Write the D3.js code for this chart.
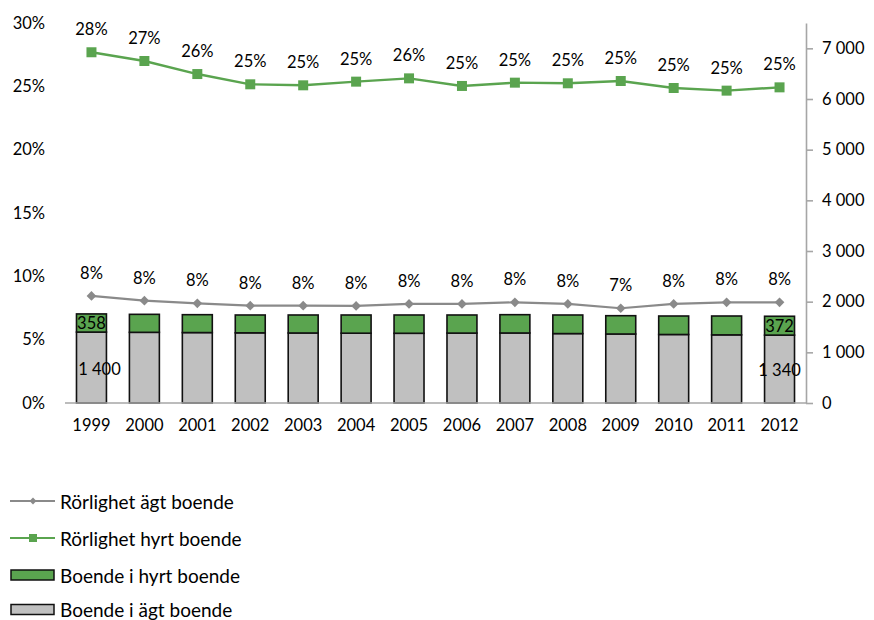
<!DOCTYPE html>
<html>
<head>
<meta charset="utf-8">
<script src="https://cdn.jsdelivr.net/npm/d3@7/dist/d3.min.js"></script>
<style>
  html, body { margin: 0; padding: 0; background: #fff; }
  svg { display: block; font-family: Lato, "Open Sans", sans-serif; }
</style>
</head>
<body>
<svg id="chart" width="874" height="620"></svg>
<script>
// Years on the category axis
const years = ["1999","2000","2001","2002","2003","2004","2005","2006","2007","2008","2009","2010","2011","2012"];

// Number of people living in owned and rented housing (right axis)
const owned  = [1400, 1395, 1390, 1385, 1382, 1378, 1376, 1380, 1382, 1370, 1362, 1352, 1345, 1340];
const rented = [358, 355, 353, 352, 355, 359, 361, 357, 361, 367, 361, 365, 372, 372];

// Mobility rates (left axis)
const mobilityOwned  = [0.0845, 0.0808, 0.0787, 0.0768, 0.0768, 0.0766, 0.0782, 0.0782, 0.0795, 0.0782, 0.0748, 0.0782, 0.0795, 0.0795];
const mobilityRented = [0.2769, 0.2700, 0.2597, 0.2516, 0.2508, 0.2537, 0.2563, 0.2503, 0.2529, 0.2524, 0.2542, 0.2487, 0.2466, 0.2492];

// Axis ticks
const leftTicks  = [0, 0.05, 0.10, 0.15, 0.20, 0.25, 0.30];
const rightTicks = [0, 1000, 2000, 3000, 4000, 5000, 6000, 7000];

// Legend entries
const legendLabels = ["Rörlighet ägt boende", "Rörlighet hyrt boende", "Boende i hyrt boende", "Boende i ägt boende"];

const GREEN = "#5aa44f";
const GREY_LINE = "#8a8a8a";
const GREY_BAR = "#c0c0c0";
const AXIS = "#a6a6a6";

const svg = d3.select("#chart");
const plot = { left: 65, right: 806, top: 23, bottom: 403 };

const x = d3.scaleBand().domain(years).range([plot.left, plot.right])
  .paddingInner(0.434).paddingOuter(0.217);
const cx = d => x(d) + x.bandwidth() / 2;
const yL = d3.scaleLinear().domain([0, 0.30]).range([plot.bottom, plot.top]);
const yR = d3.scaleLinear().domain([0, 7500]).range([plot.bottom, plot.top]);

const pct = d3.format(".0%");
const thousands = v => d3.format(",")(v).replace(/,/g, "\u00a0");

// Stacked bars: owned at the bottom, rented on top
const rows = years.map((y, i) => ({ year: y, owned: owned[i], rented: rented[i] }));
const stack = d3.stack().keys(["owned", "rented"])(rows);
const fills = { owned: GREY_BAR, rented: GREEN };

svg.append("g").selectAll("g").data(stack).join("g")
  .attr("fill", s => fills[s.key])
  .selectAll("rect").data(s => s).join("rect")
  .attr("x", d => x(d.data.year))
  .attr("width", x.bandwidth())
  .attr("y", d => yR(d[1]))
  .attr("height", d => yR(d[0]) - yR(d[1]))
  .attr("stroke", "#111")
  .attr("stroke-width", 1.6);

// Bottom category axis
const xAxis = svg.append("g").attr("transform", `translate(0,${plot.bottom})`)
  .call(d3.axisBottom(x).tickSize(0).tickPadding(16));
xAxis.select(".domain").attr("stroke", AXIS).attr("stroke-width", 1.6)
  .attr("d", `M${plot.left},0H${plot.right}`);
xAxis.selectAll("text").attr("font-size", 16.5).attr("fill", "#000")
  .attr("font-family", "Lato, sans-serif");

// Left percentage axis (labels only)
const leftAxis = svg.append("g").attr("transform", `translate(45,0)`)
  .call(d3.axisLeft(yL).tickValues(leftTicks).tickFormat(pct).tickSize(0).tickPadding(0));
leftAxis.select(".domain").remove();
leftAxis.selectAll("text").attr("font-size", 16.5).attr("fill", "#000")
  .attr("font-family", "Lato, sans-serif");

// Right count axis
const rightAxis = svg.append("g").attr("transform", `translate(${plot.right},0)`)
  .call(d3.axisRight(yR).tickValues(rightTicks).tickFormat(thousands).tickSize(7).tickSizeOuter(0).tickPadding(9));
rightAxis.select(".domain").attr("stroke", AXIS).attr("stroke-width", 1.6);
rightAxis.selectAll(".tick line").attr("stroke", AXIS).attr("stroke-width", 1.6);
rightAxis.selectAll("text").attr("font-size", 16.5).attr("fill", "#000")
  .attr("font-family", "Lato, sans-serif");

// Value labels on the first and last bars
const barLabels = svg.append("g").attr("font-size", 16.5).attr("fill", "#000")
  .attr("text-anchor", "middle").attr("dominant-baseline", "central");
[0, years.length - 1].forEach((i, k) => {
  const yr = years[i];
  barLabels.append("text")
    .attr("x", cx(yr))
    .attr("y", yR(owned[i] + rented[i] / 2))
    .text(thousands(rented[i]));
  barLabels.append("text")
    .attr("x", cx(yr) + (k === 0 ? 8 : 0))
    .attr("y", yR(owned[i]) + (yR(0) - yR(owned[i])) / 2 + 1)
    .text(thousands(owned[i]));
});

// Mobility lines
function drawLine(values, color, width, marker) {
  const pts = years.map((yr, i) => [cx(yr), yL(values[i])]);
  svg.append("path").datum(pts)
    .attr("fill", "none").attr("stroke", color).attr("stroke-width", width)
    .attr("stroke-linejoin", "round")
    .attr("d", d3.line());
  svg.append("g").selectAll("path").data(pts).join("path")
    .attr("transform", d => `translate(${d[0]},${d[1]})`)
    .attr("fill", color)
    .attr("d", marker);
  svg.append("g").attr("font-size", 16.5).attr("fill", "#000")
    .attr("text-anchor", "middle").attr("dominant-baseline", "central")
    .selectAll("text").data(values).join("text")
    .attr("x", (d, i) => cx(years[i]))
    .attr("y", d => yL(d) - 23)
    .text(d => pct(d));
}
const diamond = d3.symbol().type(d3.symbolDiamond2).size(60)();
const square = "M-5,-5H5V5H-5Z";
drawLine(mobilityOwned, GREY_LINE, 2.2, diamond);
drawLine(mobilityRented, GREEN, 2.4, square);

// Legend
const legend = svg.append("g").attr("font-size", 19).attr("fill", "#000");
const legendY = [501, 538, 575, 609.5];
legendLabels.forEach((label, i) => {
  const g = legend.append("g").attr("transform", `translate(0,${legendY[i]})`);
  if (i === 0) {
    g.append("line").attr("x1", 10).attr("x2", 55).attr("stroke", GREY_LINE).attr("stroke-width", 2);
    g.append("path").attr("transform", "translate(33,0)").attr("fill", GREY_LINE)
      .attr("d", d3.symbol().type(d3.symbolDiamond2).size(30)());
  } else if (i === 1) {
    g.append("line").attr("x1", 10).attr("x2", 55).attr("stroke", GREEN).attr("stroke-width", 2.2);
    g.append("path").attr("transform", "translate(33,0)").attr("fill", GREEN).attr("d", "M-4,-4H4V4H-4Z");
  } else {
    g.append("rect").attr("x", 11).attr("y", -5).attr("width", 43).attr("height", 10)
      .attr("fill", i === 2 ? GREEN : GREY_BAR).attr("stroke", "#111").attr("stroke-width", 1.5);
  }
  g.append("text").attr("x", 60).attr("dominant-baseline", "central").text(label);
});
</script>
</body>
</html>
